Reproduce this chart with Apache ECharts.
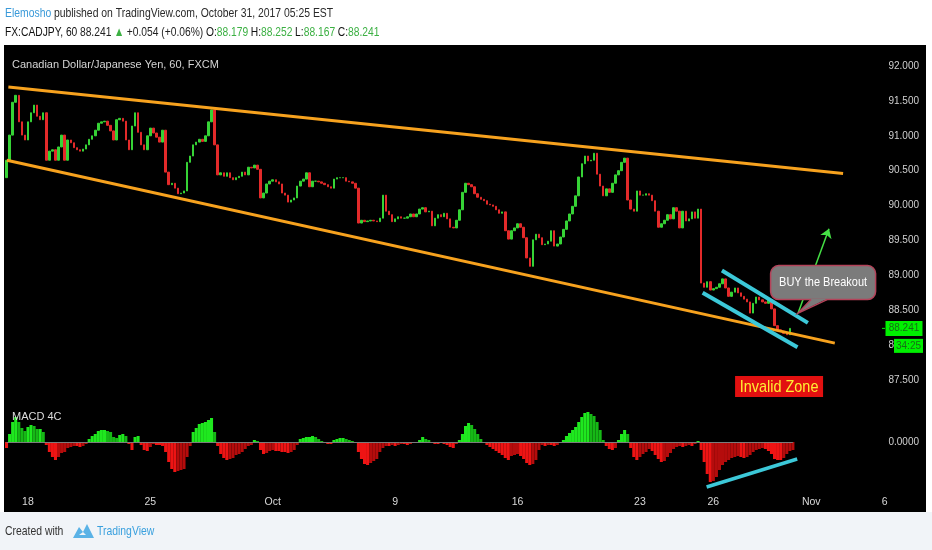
<!DOCTYPE html>
<html><head><meta charset="utf-8">
<script src="https://cdn.jsdelivr.net/npm/echarts@6/dist/echarts.min.js"></script>
<style>html,body{margin:0;padding:0;background:#fff}#c{width:932px;height:550px}</style>
</head><body><div id="c"></div>
<script>
// ---------- data ----------
const tradingDays = ['Sep 15','Sep 18','Sep 19','Sep 20','Sep 21','Sep 22','Sep 25','Sep 26','Sep 27','Sep 28','Sep 29',
  'Oct 2','Oct 3','Oct 4','Oct 5','Oct 6','Oct 9','Oct 10','Oct 11','Oct 12','Oct 13','Oct 16','Oct 17','Oct 18','Oct 19','Oct 20',
  'Oct 23','Oct 24','Oct 25','Oct 26','Oct 27','Oct 30','Oct 31','Nov 1','Nov 2','Nov 3','Nov 6','Nov 7'];
const slotHours = ['00:00','03:00','06:00','09:00','12:00','15:00','18:00','21:00'];
const tickLabels = {'Sep 18':'18','Sep 25':'25','Oct 2':'Oct','Oct 9':'9','Oct 16':'16','Oct 23':'23','Oct 26':'26','Nov 1':'Nov','Nov 6':'6'};
const slotCount = 301;

const firstOpen = 90.40;
const closes = [
 90.65,91.01,91.48,91.58,91.20,91.01,90.94,91.20,91.33,91.44,
 91.28,91.23,91.33,90.65,90.78,90.80,90.65,90.84,91.01,90.65,
 90.94,90.90,90.83,90.80,90.78,90.81,90.87,90.95,91.00,91.08,
 91.18,91.20,91.21,91.15,91.07,90.94,91.23,91.25,91.21,90.94,
 90.80,91.14,91.33,91.05,90.87,90.80,91.00,91.11,91.04,90.98,
 90.91,91.08,90.48,90.30,90.32,90.25,90.17,90.18,90.21,90.62,
 90.71,90.87,90.91,90.95,90.92,91.00,91.20,91.37,90.87,90.44,
 90.47,90.42,90.47,90.40,90.37,90.40,90.42,90.48,90.44,90.55,
 90.54,90.58,90.52,90.11,90.18,90.31,90.35,90.37,90.34,90.31,
 90.18,90.15,90.05,90.08,90.11,90.28,90.35,90.38,90.47,90.27,
 90.35,90.35,90.34,90.32,90.30,90.27,90.25,90.38,90.40,90.40,
 90.40,90.35,90.34,90.32,90.25,89.75,89.79,89.77,89.78,89.79,
 89.78,89.77,89.82,90.15,89.92,89.87,89.77,89.81,89.84,89.82,
 89.82,89.84,89.88,89.84,89.88,89.95,89.97,89.91,89.92,89.71,
 89.82,89.87,89.84,89.89,89.81,89.69,89.68,89.79,89.94,90.19,
 90.32,90.30,90.27,90.17,90.12,90.09,90.07,90.02,90.01,89.99,
 89.94,89.89,89.91,89.64,89.52,89.64,89.68,89.74,89.69,89.54,
 89.25,89.13,89.51,89.59,89.54,89.44,89.45,89.49,89.64,89.42,
 89.45,89.55,89.66,89.78,89.88,89.99,90.14,90.41,90.60,90.71,
 90.64,90.65,90.75,90.45,90.28,90.14,90.24,90.19,90.32,90.44,
 90.50,90.62,90.68,90.08,89.95,89.92,90.21,90.15,90.15,90.17,
 90.15,90.07,89.92,89.69,89.74,89.79,89.87,89.81,89.97,89.92,
 89.68,89.92,89.78,89.81,89.91,89.82,89.95,88.89,88.83,88.91,
 88.79,88.81,88.83,88.88,88.95,88.82,88.70,88.76,88.82,88.75,
 88.70,88.66,88.62,88.46,88.60,88.69,88.65,88.62,88.60,88.65,
 88.52,88.28,88.22,88.20,88.17,88.15,88.241
];
// MACD histogram, in thousandths
const macdHist = [
 -6,8,20,25,20,14,11,15,17,16,
 13,13,10,-3,-10,-15,-18,-15,-11,-10,
 -6,-5,-4,-4,-5,-4,-2,3,6,8,
 11,12,12,11,10,5,4,7,8,6,
 -2,-8,5,6,-3,-8,-9,-5,-2,-3,
 -3,-4,-10,-20,-27,-30,-29,-28,-27,-15,
 -4,10,14,18,19,20,22,24,10,-4,
 -12,-16,-18,-17,-16,-13,-12,-10,-7,-4,
 -3,2,1,-8,-12,-11,-9,-8,-9,-9,
 -10,-10,-11,-10,-8,-3,3,4,5,5,
 6,5,3,1,-1,-2,-2,2,3,4,
 4,3,2,1,-1,-10,-17,-22,-23,-21,
 -19,-17,-10,-6,-4,-4,-3,-4,-3,-2,
 -2,-3,-2,-1,-1,2,5,3,2,-1,
 -2,-2,-1,-2,-3,-5,-6,-2,2,8,
 16,19,17,13,8,3,-1,-3,-5,-7,
 -9,-11,-13,-16,-18,-14,-13,-12,-14,-17,
 -21,-23,-22,-18,-8,-3,-4,-3,-3,-4,
 -3,-1,2,6,9,12,15,20,25,29,
 30,28,26,20,12,2,-4,-7,-8,-6,
 2,8,12,8,-6,-15,-18,-15,-12,-10,
 -7,-9,-13,-17,-20,-19,-15,-11,-7,-5,
 -4,-5,-4,-3,-4,-2,1,-8,-20,-32,
 -40,-39,-35,-28,-23,-20,-18,-16,-15,-14,
 -15,-16,-15,-13,-10,-8,-7,-6,-7,-9,
 -12,-17,-18,-18,-16,-12,-9,-8
];
// drawings: [slot index, price]
const upperTrend = [[0.6, 91.70],[273.4, 90.46]];
const lowerTrend = [[0.1, 90.65],[270.7, 88.03]];
const wedgeUpper = [[233.8, 89.07],[261.9, 88.32]];
const wedgeLower = [[227.5, 88.75],[258.5, 87.97]];
const breakoutArrow = [[258.7, 88.46],[268.8, 89.67]];
const invalidZoneAnchor = [238.1, 87.56];
const macdTrend = [[228.8, -45],[258.4, -17]];
const countdown = '34:25';

// ---------- build ----------
const categories = [];
tradingDays.forEach(d => slotHours.forEach(h => categories.push(d + ' ' + h)));
categories.shift();
categories.length = slotCount;

const candles = closes.map((c, i) => {
  const o = i ? closes[i - 1] : firstOpen;
  return [o, c, Math.min(o, c), Math.max(o, c)];
});
const macdData = macdHist.map((v, i) => {
  const p = i ? macdHist[i - 1] : 0;
  let col;
  if (v >= 0) col = v >= p ? '#1fe81f' : '#16b816';
  else col = v <= p ? '#ee1414' : '#b50c0c';
  return { value: v, itemStyle: { color: col } };
});

const SANS = "'Liberation Sans',Arial,sans-serif";
const rs = (fill) => ({ fill, fontSize: 13, fontFamily: SANS, fontWeight: 'normal' });

const chart = echarts.init(document.getElementById('c'), null, { renderer: 'canvas' });

const option = {
  animation: false,
  backgroundColor: '#ffffff',
  title: [
    { left: 12, top: 59, padding: 0, text: 'Canadian Dollar/Japanese Yen, 60, FXCM',
      textStyle: { color: '#d4d4d4', fontSize: 11, fontWeight: 'normal', fontFamily: SANS } },
    { left: 12, top: 411, padding: 0, text: 'MACD 4C',
      textStyle: { color: '#dddddd', fontSize: 11, fontWeight: 'normal', fontFamily: SANS } }
  ],
  grid: [
    { left: 5, right: 6, top: 31.1, height: 383.9 },
    { left: 5, right: 6, top: 390, height: 104 }
  ],
  xAxis: [
    { type: 'category', gridIndex: 0, data: categories, show: false },
    { type: 'category', gridIndex: 1, data: categories, position: 'bottom',
      axisLine: { show: false }, axisTick: { show: false },
      axisLabel: { color: '#d8d8d8', fontSize: 10.5, fontFamily: SANS, margin: 3,
        interval: (idx, val) => val.endsWith('00:00') && !!tickLabels[val.slice(0, -6)],
        formatter: val => tickLabels[val.slice(0, -6)] || '' } },
    { type: 'value', gridIndex: 0, min: -0.5, max: slotCount - 0.5, show: false },
    { type: 'value', gridIndex: 1, min: -0.5, max: slotCount - 0.5, show: false }
  ],
  yAxis: [
    { type: 'value', gridIndex: 0, position: 'right', min: 87, max: 92.5, interval: 0.5, scale: true,
      axisLine: { show: false }, axisTick: { show: false }, splitLine: { show: false },
      axisLabel: { inside: true, margin: 7, color: '#d0d0d0', fontSize: 10, fontFamily: SANS,
        formatter: v => (v < 87.25 || v > 92.25) ? '' : v.toFixed(3) } },
    { type: 'value', gridIndex: 1, position: 'right', min: -52, max: 52, interval: 52,
      axisLine: { show: false }, axisTick: { show: false }, splitLine: { show: false },
      axisLabel: { inside: true, margin: 7, color: '#d0d0d0', fontSize: 10, fontFamily: SANS,
        formatter: v => v === 0 ? '0.0000' : '' } }
  ],
  series: [
    { type: 'candlestick', xAxisIndex: 0, yAxisIndex: 0, data: candles, barWidth: 2,
      itemStyle: { color: '#36d336', color0: '#e32a2a', borderColor: '#36d336', borderColor0: '#e32a2a', borderWidth: 1 }, z: 3 },
    { type: 'lines', coordinateSystem: 'cartesian2d', xAxisIndex: 2, yAxisIndex: 0, z: 5,
      data: [{ coords: upperTrend }, { coords: lowerTrend }],
      lineStyle: { color: '#f7a21e', width: 3, opacity: 1 }, symbol: 'none' },
    { type: 'lines', coordinateSystem: 'cartesian2d', xAxisIndex: 2, yAxisIndex: 0, z: 6,
      data: [{ coords: wedgeUpper }, { coords: wedgeLower }],
      lineStyle: { color: '#3cc8d8', width: 4, opacity: 1 }, symbol: 'none' },
    { type: 'lines', coordinateSystem: 'cartesian2d', xAxisIndex: 2, yAxisIndex: 0, z: 6,
      data: [{ coords: breakoutArrow }],
      lineStyle: { color: '#45e045', width: 1.5, opacity: 1 }, symbol: ['none', 'arrow'], symbolSize: 9 },
    { type: 'bar', xAxisIndex: 1, yAxisIndex: 1, data: macdData, barWidth: '100%', barCategoryGap: 0, z: 3,
      markLine: { silent: true, symbol: 'none', label: { show: false },
        lineStyle: { color: '#7c7c7c', width: 1, type: 'solid' },
        data: [[{ coord: [0, 0] }, { coord: [macdHist.length - 1, 0] }]] } },
    { type: 'lines', coordinateSystem: 'cartesian2d', xAxisIndex: 3, yAxisIndex: 1, z: 6,
      data: [{ coords: macdTrend }],
      lineStyle: { color: '#3cc8d8', width: 3.5, opacity: 1 }, symbol: 'none' }
  ]
};
chart.setOption(option);

const px = pt => chart.convertToPixel({ seriesIndex: 1 }, pt);
const tip = px(breakoutArrow[0]);
const iz = px(invalidZoneAnchor);
const lastPt = chart.convertToPixel({ seriesIndex: 0 }, [closes.length - 1, closes[closes.length - 1]]);
const ly = lastPt[1];

chart.setOption({
  graphic: [
    { type: 'rect', z: -10, silent: true, shape: { x: 4, y: 45, width: 922, height: 467 }, style: { fill: '#000' } },
    { type: 'rect', z: -10, silent: true, shape: { x: 0, y: 512, width: 932, height: 38 }, style: { fill: '#f1f4f8' } },
    // header (narrow face emulated by horizontal scaling)
    { type: 'text', z: 30, x: 5, y: 13.5, scaleX: 0.8,
      style: { text: '{a|Elemosho} {b|published on TradingView.com, October 31, 2017 05:25 EST}',
        verticalAlign: 'middle', align: 'left', rich: { a: rs('#3a9ad9'), b: rs('#2a2a2a') } } },
    { type: 'text', z: 30, x: 5, y: 32, scaleX: 0.79,
      style: { text: '{b|FX:CADJPY, 60} {n|88.241} {g|▲} {n|+0.054 (+0.06%)} {b|O:}{g|88.179} {b|H:}{g|88.252} {b|L:}{g|88.167} {b|C:}{g|88.241}',
        verticalAlign: 'middle', align: 'left', rich: { b: rs('#111'), n: rs('#222'), g: rs('#3cb043') } } },
    // footer
    { type: 'text', z: 30, x: 5, y: 531, scaleX: 0.8,
      style: { text: 'Created with', fill: '#333', font: "13px 'Liberation Sans',Arial,sans-serif", verticalAlign: 'middle', align: 'left' } },
    { type: 'text', z: 30, x: 97, y: 531, scaleX: 0.8,
      style: { text: 'TradingView', fill: '#3aa0de', font: "13px 'Liberation Sans',Arial,sans-serif", verticalAlign: 'middle', align: 'left' } },
    // balloon
    { type: 'rect', z: 20, shape: { x: tip[0] - 27.5, y: tip[1] - 47.5, width: 105, height: 34, r: 8 },
      style: { fill: '#7b7b7b', stroke: '#b4435a', lineWidth: 1.5 } },
    { type: 'polygon', z: 21, shape: { points: [[tip[0] + 13, tip[1] - 14.3], [tip[0] + 29, tip[1] - 14.3], [tip[0], tip[1]]] },
      style: { fill: '#7b7b7b' } },
    { type: 'polyline', z: 22, shape: { points: [[tip[0] + 13, tip[1] - 13.5], [tip[0], tip[1]], [tip[0] + 29, tip[1] - 13.5]] },
      style: { stroke: '#b4435a', lineWidth: 1.5, fill: null } },
    { type: 'text', z: 23, x: tip[0] + 25, y: tip[1] - 30.5, scaleX: 0.88,
      style: { text: 'BUY the Breakout', fill: '#ffffff', font: "12.5px 'Liberation Sans',Arial,sans-serif", align: 'center', verticalAlign: 'middle' } },
    // invalid zone
    { type: 'rect', z: 20, shape: { x: iz[0], y: iz[1], width: 88, height: 21 }, style: { fill: '#e21010' } },
    { type: 'text', z: 21, x: iz[0] + 44, y: iz[1] + 11, scaleX: 0.85,
      style: { text: 'Invalid Zone', fill: '#ffee33', font: "17px 'Liberation Sans',Arial,sans-serif", align: 'center', verticalAlign: 'middle' } },
    // last price label
    { type: 'rect', z: 20, shape: { x: 885.5, y: ly - 7.5, width: 37, height: 15 }, style: { fill: '#00f000' } },
    { type: 'text', z: 21, x: 904, y: ly,
      style: { text: closes[closes.length - 1].toFixed(3), fill: '#176d17', font: "10px " + SANS, align: 'center', verticalAlign: 'middle' } },
    { type: 'rect', z: 20, shape: { x: 894, y: ly + 10.5, width: 29, height: 14 }, style: { fill: '#00f000' } },
    { type: 'text', z: 21, x: 908.5, y: ly + 17.5,
      style: { text: countdown, fill: '#176d17', font: "10px " + SANS, align: 'center', verticalAlign: 'middle' } },
    { type: 'line', z: 20, shape: { x1: 882, y1: ly, x2: 885, y2: ly }, style: { stroke: '#00f000', lineWidth: 1 } },
    // logo
    { type: 'polygon', z: 5, shape: { points: [[73, 538], [79, 527], [83, 532], [87, 524], [94, 538]] }, style: { fill: '#5ab2e6' } },
    { type: 'polygon', z: 6, shape: { points: [[79, 535], [83, 532], [86, 535]] }, style: { fill: '#f1f4f8' } }
  ]
});
</script>
</body></html>
